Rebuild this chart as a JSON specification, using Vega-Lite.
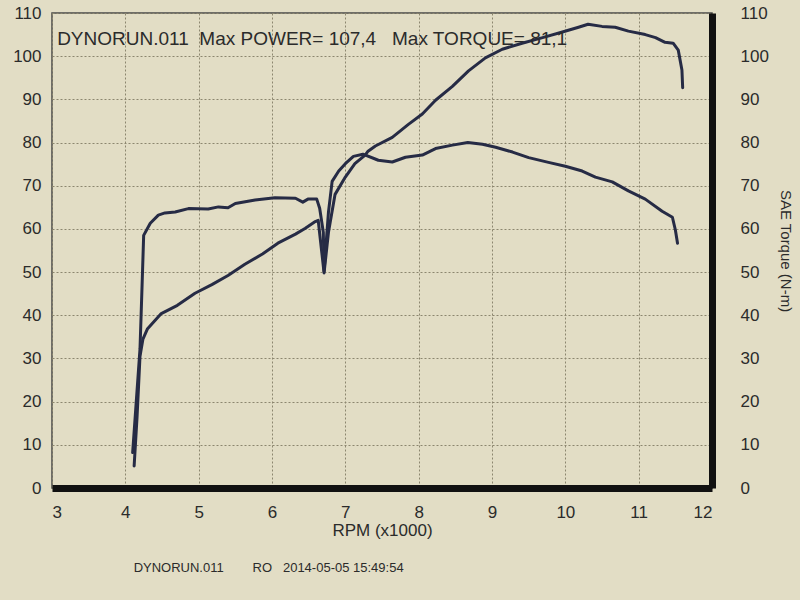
{
  "$schema": "https://vega.github.io/schema/vega-lite/v6.json",
  "width": 660,
  "height": 475,
  "autosize": "none",
  "padding": {"left": 52, "top": 13, "right": 88, "bottom": 112},
  "background": "#e2ddc5",
  "config": {
    "font": "Liberation Sans",
    "view": {"stroke": "#4a4a48", "strokeWidth": 1.5},
    "axis": {
      "labelFont": "Liberation Sans",
      "titleFont": "Liberation Sans",
      "labelColor": "#2b2b2b",
      "titleColor": "#2b2b2b",
      "labelFontSize": 17,
      "titleFontWeight": "normal"
    }
  },
  "title": {
    "text": "DYNORUN.011\u00a0\u00a0\u00a0\u00a0\u00a0\u00a0\u00a0\u00a0RO\u00a0\u00a0\u00a02014-05-05 15:49:54",
    "orient": "bottom",
    "anchor": "start",
    "dx": 121,
    "offset": 24,
    "fontSize": 13,
    "fontWeight": "normal",
    "color": "#2b2b2b",
    "font": "Liberation Sans"
  },
  "datasets": {
    "power": [
      {"rpm": 4.12, "value": 5.1}, {"rpm": 4.16, "value": 16.5}, {"rpm": 4.2, "value": 30.5}, {"rpm": 4.24, "value": 34.5},
      {"rpm": 4.3, "value": 36.8}, {"rpm": 4.49, "value": 40.4}, {"rpm": 4.71, "value": 42.3}, {"rpm": 4.95, "value": 45.1},
      {"rpm": 5.18, "value": 47.1}, {"rpm": 5.4, "value": 49.2}, {"rpm": 5.63, "value": 51.8}, {"rpm": 5.87, "value": 54.2},
      {"rpm": 6.08, "value": 56.7}, {"rpm": 6.32, "value": 58.8}, {"rpm": 6.45, "value": 60.1}, {"rpm": 6.59, "value": 61.7},
      {"rpm": 6.63, "value": 62.0}, {"rpm": 6.71, "value": 49.8}, {"rpm": 6.77, "value": 59.2}, {"rpm": 6.86, "value": 68.0},
      {"rpm": 7.0, "value": 72.0}, {"rpm": 7.13, "value": 75.1}, {"rpm": 7.27, "value": 77.1}, {"rpm": 7.31, "value": 78.0},
      {"rpm": 7.41, "value": 79.2}, {"rpm": 7.64, "value": 81.2}, {"rpm": 7.86, "value": 84.2}, {"rpm": 8.05, "value": 86.6},
      {"rpm": 8.23, "value": 89.8}, {"rpm": 8.46, "value": 93.0}, {"rpm": 8.68, "value": 96.6}, {"rpm": 8.91, "value": 99.6},
      {"rpm": 9.14, "value": 101.6}, {"rpm": 9.41, "value": 103.0}, {"rpm": 9.69, "value": 104.3}, {"rpm": 9.96, "value": 105.6},
      {"rpm": 10.18, "value": 106.7}, {"rpm": 10.31, "value": 107.4}, {"rpm": 10.5, "value": 106.9}, {"rpm": 10.68, "value": 106.7},
      {"rpm": 10.86, "value": 105.8}, {"rpm": 11.09, "value": 105.0}, {"rpm": 11.23, "value": 104.3}, {"rpm": 11.36, "value": 103.2},
      {"rpm": 11.47, "value": 103.0}, {"rpm": 11.54, "value": 101.4}, {"rpm": 11.59, "value": 96.8}, {"rpm": 11.6, "value": 92.7}
    ],
    "torque": [
      {"rpm": 4.1, "value": 8.2}, {"rpm": 4.2, "value": 32.2}, {"rpm": 4.23, "value": 47.8}, {"rpm": 4.25, "value": 58.5},
      {"rpm": 4.34, "value": 61.3}, {"rpm": 4.45, "value": 63.2}, {"rpm": 4.54, "value": 63.7}, {"rpm": 4.68, "value": 63.9},
      {"rpm": 4.86, "value": 64.7}, {"rpm": 5.13, "value": 64.6}, {"rpm": 5.27, "value": 65.1}, {"rpm": 5.4, "value": 64.9},
      {"rpm": 5.5, "value": 65.9}, {"rpm": 5.77, "value": 66.7}, {"rpm": 6.04, "value": 67.2}, {"rpm": 6.32, "value": 67.1},
      {"rpm": 6.42, "value": 66.2}, {"rpm": 6.49, "value": 66.9}, {"rpm": 6.61, "value": 66.9}, {"rpm": 6.65, "value": 64.8},
      {"rpm": 6.7, "value": 59.2}, {"rpm": 6.71, "value": 50.2}, {"rpm": 6.77, "value": 63.9}, {"rpm": 6.82, "value": 71.0},
      {"rpm": 6.91, "value": 73.4}, {"rpm": 7.0, "value": 75.1}, {"rpm": 7.11, "value": 76.8}, {"rpm": 7.24, "value": 77.3},
      {"rpm": 7.45, "value": 75.9}, {"rpm": 7.64, "value": 75.5}, {"rpm": 7.82, "value": 76.6}, {"rpm": 8.05, "value": 77.1},
      {"rpm": 8.23, "value": 78.6}, {"rpm": 8.46, "value": 79.4}, {"rpm": 8.67, "value": 80.0}, {"rpm": 8.87, "value": 79.6},
      {"rpm": 9.05, "value": 78.9}, {"rpm": 9.28, "value": 77.8}, {"rpm": 9.5, "value": 76.5}, {"rpm": 9.77, "value": 75.4},
      {"rpm": 10.0, "value": 74.5}, {"rpm": 10.23, "value": 73.4}, {"rpm": 10.41, "value": 72.0}, {"rpm": 10.64, "value": 70.9},
      {"rpm": 10.86, "value": 68.8}, {"rpm": 11.09, "value": 66.9}, {"rpm": 11.32, "value": 64.1}, {"rpm": 11.46, "value": 62.7},
      {"rpm": 11.5, "value": 59.8}, {"rpm": 11.53, "value": 56.7}
    ],
    "header": [
      {"rpm": 3.07, "value": 102.6, "label": "DYNORUN.011\u00a0\u00a0Max POWER= 107,4\u00a0\u00a0\u00a0Max TORQUE= 81,1"}
    ]
  },
  "layer": [
    {
      "layer": [
        {
          "data": {"name": "power"},
          "mark": {"type": "line", "color": "#262b45", "strokeWidth": 3, "strokeJoin": "round", "strokeCap": "round"},
          "encoding": {
            "x": {
              "field": "rpm",
              "type": "quantitative",
              "scale": {"domain": [3, 12], "nice": false, "zero": false},
              "axis": {
                "title": "RPM (x1000)",
                "titleFontSize": 17,
                "titlePadding": 2,
                "labelFontSize": 17,
                "labelPadding": 16,
                "values": [3, 4, 5, 6, 7, 8, 9, 10, 11, 12],
                "format": "d",
                "grid": true,
                "gridColor": "#8c866f",
                "gridDash": [2, 2],
                "gridWidth": 1,
                "tickSize": 0,
                "domain": true,
                "domainColor": "#111111",
                "domainWidth": 7
              }
            },
            "y": {
              "field": "value",
              "type": "quantitative",
              "scale": {"domain": [0, 110], "nice": false},
              "axis": {
                "title": null,
                "values": [0, 10, 20, 30, 40, 50, 60, 70, 80, 90, 100, 110],
                "grid": true,
                "gridColor": "#8c866f",
                "gridDash": [2, 2],
                "gridWidth": 1,
                "tickSize": 0,
                "domain": false,
                "labelPadding": 11,
                "labelFontSize": 17
              }
            }
          }
        },
        {
          "data": {"name": "header"},
          "mark": {"type": "text", "align": "left", "baseline": "alphabetic", "fontSize": 19, "color": "#2b2b2b", "font": "Liberation Sans"},
          "encoding": {
            "x": {"field": "rpm", "type": "quantitative"},
            "y": {"field": "value", "type": "quantitative"},
            "text": {"field": "label"}
          }
        }
      ]
    },
    {
      "data": {"name": "torque"},
      "mark": {"type": "line", "color": "#262b45", "strokeWidth": 3, "strokeJoin": "round", "strokeCap": "round"},
      "encoding": {
        "x": {"field": "rpm", "type": "quantitative"},
        "y": {
          "field": "value",
          "type": "quantitative",
          "scale": {"domain": [0, 110], "nice": false},
          "axis": {
            "orient": "right",
            "title": "SAE Torque (N-m)",
            "titleFontSize": 15,
            "titlePadding": 9,
            "values": [0, 10, 20, 30, 40, 50, 60, 70, 80, 90, 100, 110],
            "grid": false,
            "tickSize": 0,
            "domain": true,
            "domainColor": "#111111",
            "domainWidth": 7,
            "labelPadding": 28,
            "labelFontSize": 17
          }
        }
      }
    }
  ],
  "resolve": {"scale": {"y": "independent"}}
}
